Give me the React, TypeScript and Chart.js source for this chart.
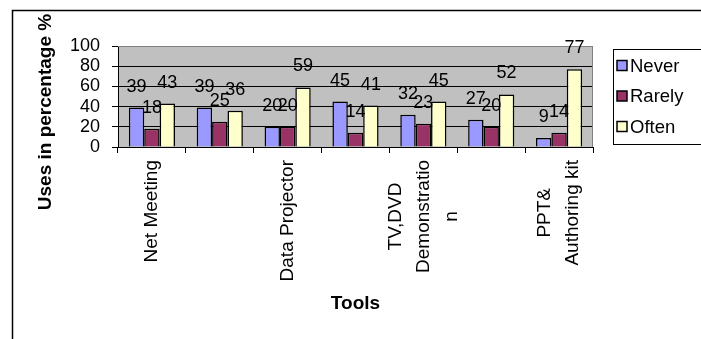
import React, { useEffect, useRef } from "react";
import { Chart, registerables } from "chart.js";

Chart.register(...registerables);

// Category names, split into the lines they are printed on
const categories: string[][] = [
  ["Net Meeting"],
  [""],
  ["Data Projector"],
  [""],
  ["TV,DVD", "Demonstratio", "n"],
  [""],
  ["PPT&", "Authoring kit"],
];

const seriesNames = ["Never", "Rarely", "Often"];
const neverValues = [39, 39, 20, 45, 32, 27, 9];
const rarelyValues = [18, 25, 20, 14, 23, 20, 14];
const oftenValues = [43, 36, 59, 41, 45, 52, 77];
const seriesColors = ["#9999FF", "#993366", "#FFFFCC"];

const yTicks = [0, 20, 40, 60, 80, 100];
const yTitle = "Uses in percentage %";
const xTitle = "Tools";

const FONT = 'Arial, "Liberation Sans", sans-serif';

const decorations = {
  id: "decorations",
  beforeDraw(chart: any) {
    const { ctx, chartArea } = chart;
    ctx.save();
    // plot area fill
    ctx.fillStyle = "#C0C0C0";
    ctx.fillRect(chartArea.left, chartArea.top, chartArea.right - chartArea.left, chartArea.bottom - chartArea.top);
    // outer frame of the chart
    ctx.strokeStyle = "#000";
    ctx.lineWidth = 1.5;
    ctx.strokeRect(12.5, 10.5, 900, 500);
    ctx.restore();
  },
  afterDatasetsDraw(chart: any) {
    const { ctx, chartArea } = chart;
    ctx.save();
    // plot area border (top / right)
    ctx.strokeStyle = "#808080";
    ctx.lineWidth = 1;
    ctx.beginPath();
    ctx.moveTo(chartArea.left, chartArea.top + 0.5);
    ctx.lineTo(chartArea.right - 0.5, chartArea.top + 0.5);
    ctx.lineTo(chartArea.right - 0.5, chartArea.bottom);
    ctx.stroke();

    // value labels above each bar
    ctx.fillStyle = "#000";
    ctx.font = `18px ${FONT}`;
    ctx.textAlign = "center";
    ctx.textBaseline = "middle";
    chart.data.datasets.forEach((ds: any, di: number) => {
      const meta = chart.getDatasetMeta(di);
      meta.data.forEach((bar: any, i: number) => {
        ctx.fillText(String(ds.data[i]), bar.x, bar.y - 21);
      });
    });
    ctx.restore();
  },
  afterDraw(chart: any) {
    const { ctx } = chart;
    const xScale = chart.scales.x;
    ctx.save();
    ctx.fillStyle = "#000";

    // rotated category labels
    ctx.font = `19px ${FONT}`;
    const lineGap = 28;
    const labelTop = 160;
    categories.forEach((lines, i) => {
      const cx = xScale.getPixelForValue(i);
      const n = lines.length;
      const maxW = Math.max(...lines.map((l) => ctx.measureText(l).width));
      lines.forEach((line, j) => {
        if (!line) return;
        const x = cx + (j - (n - 1) / 2) * lineGap;
        ctx.save();
        ctx.translate(x, labelTop + maxW / 2);
        ctx.rotate(-Math.PI / 2);
        ctx.textAlign = "center";
        ctx.textBaseline = "middle";
        ctx.fillText(line, 0, 0);
        ctx.restore();
      });
    });

    // y axis title
    ctx.font = `bold 19px ${FONT}`;
    ctx.save();
    ctx.translate(46, 112);
    ctx.rotate(-Math.PI / 2);
    ctx.textAlign = "center";
    ctx.textBaseline = "middle";
    ctx.fillText(yTitle, 0, 0);
    ctx.restore();

    // legend
    ctx.strokeStyle = "#000";
    ctx.lineWidth = 1;
    ctx.strokeRect(613.5, 49.5, 88, 95);
    ctx.font = `18.5px ${FONT}`;
    ctx.textAlign = "left";
    ctx.textBaseline = "middle";
    chart.data.datasets.forEach((ds: any, di: number) => {
      const cy = 65.5 + di * 30.5;
      ctx.fillStyle = ds.backgroundColor;
      ctx.fillRect(617, cy - 5, 10, 10);
      ctx.lineWidth = 1.5;
      ctx.strokeRect(617, cy - 5, 10, 10);
      ctx.fillStyle = "#000";
      ctx.fillText(ds.label, 630, cy + 1);
    });
    ctx.restore();
  },
};

export default function App() {
  const canvasRef = useRef<HTMLCanvasElement | null>(null);

  useEffect(() => {
    if (!canvasRef.current) return;
    const values = [neverValues, rarelyValues, oftenValues];
    const chart = new Chart(canvasRef.current, {
      type: "bar",
      data: {
        labels: categories.map((c) => c.join(" ")),
        datasets: seriesNames.map((name, i) => ({
          label: name,
          data: values[i],
          backgroundColor: seriesColors[i],
          borderColor: "#000",
          borderWidth: 1.5,
          categoryPercentage: 0.68,
          barPercentage: 1,
        })),
      },
      options: {
        responsive: false,
        animation: false,
        devicePixelRatio: 1,
        layout: { padding: { top: 46, right: 108, left: 0, bottom: 0 } },
        plugins: {
          legend: { display: false },
          tooltip: { enabled: false },
        },
        scales: {
          x: {
            grid: {
              offset: true,
              drawOnChartArea: false,
              drawTicks: true,
              tickLength: 6,
              tickColor: "#000",
              color: "#000",
            },
            border: { color: "#000", width: 1 },
            ticks: { display: false, autoSkip: false },
            title: {
              display: true,
              text: xTitle,
              color: "#000",
              font: { family: FONT, size: 19, weight: "bold" },
              padding: { top: 0, bottom: 23.6 },
            },
            afterFit: (scale: any) => {
              scale.height = 192;
            },
          },
          y: {
            min: 0,
            max: 100,
            afterBuildTicks: (scale: any) => {
              scale.ticks = yTicks.map((v) => ({ value: v }));
            },
            grid: {
              color: (c: any) => (c.tick && c.tick.value === 100 ? "#808080" : "#000"),
              tickColor: "#000",
              tickLength: 6,
              lineWidth: 1,
            },
            border: { color: "#000", width: 1 },
            ticks: {
              color: "#000",
              padding: 12,
              autoSkip: false,
              font: { family: FONT, size: 18 },
            },
            afterFit: (scale: any) => {
              scale.width = 118;
            },
          },
        },
      },
      plugins: [decorations],
    });
    return () => chart.destroy();
  }, []);

  return (
    <div style={{ position: "fixed", left: 0, top: 0, width: 701, height: 339, background: "#fff" }}>
      <canvas ref={canvasRef} width={701} height={339} style={{ display: "block" }} />
    </div>
  );
}
